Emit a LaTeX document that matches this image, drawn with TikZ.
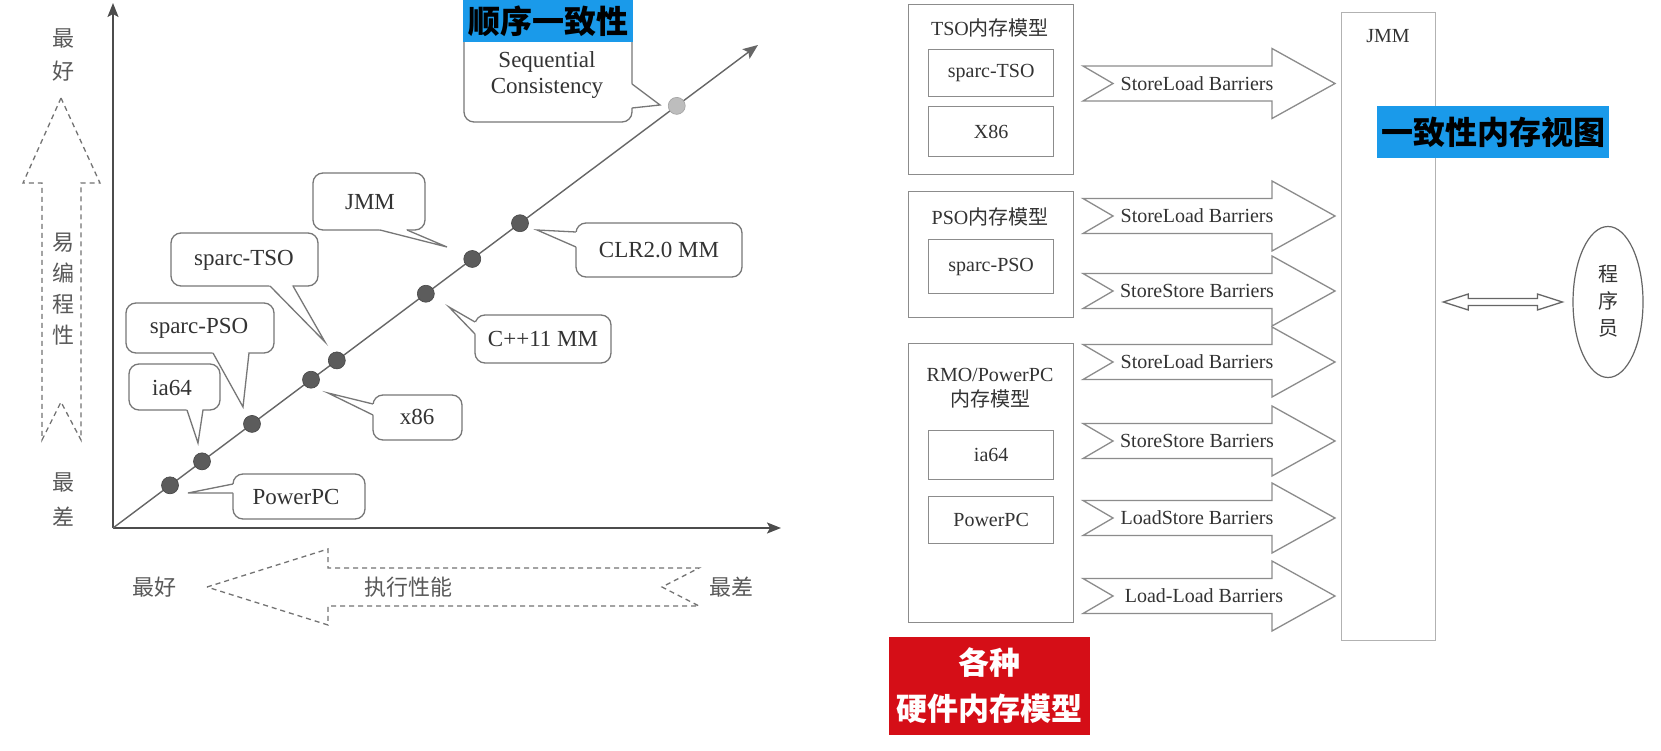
\documentclass[tikz,border=0pt]{standalone}
\usepackage{fontspec}
\setmainfont{Liberation Serif}
\newfontfamily\cjk{Noto Sans CJK SC}
\usetikzlibrary{arrows.meta,calc,shapes.geometric}
\definecolor{lc}{HTML}{777777}
\definecolor{bc}{HTML}{8C8C8C}
\definecolor{tx}{HTML}{333333}
\definecolor{dotc}{HTML}{5C5C5C}
\definecolor{scdot}{HTML}{BDBDBD}
\definecolor{blueL}{HTML}{1A9AEA}
\definecolor{redL}{HTML}{D50E17}
% rounded callout: corner1, corner2, base1, tip, base2
\newcommand\mycallout[5]{%
  \draw[co] #1 rectangle #2;
  \coordinate (cc) at ($#1!0.5!#2$);
  \fill[white] ($#3!2.5pt!(cc)$) -- #3 -- #4 -- #5 -- ($#5!2.5pt!(cc)$) -- cycle;
  \draw[coline] #3 -- #4 -- #5;
}
% barrier arrow: mid y, name, text
\newcommand\barrier[3]{%
  \draw[fat] (1083,#1-17.5) -- (1272,#1-17.5) -- (1272,#1-35) -- (1335,#1)
    -- (1272,#1+35) -- (1272,#1+17.5) -- (1083,#1+17.5) -- (1113,#1) -- cycle;
  \node[bt] (#2) at (1197,#1) {#3};
}
\begin{document}
\begin{tikzpicture}[x=1pt,y=-1pt,
  co/.style={draw=lc, line width=1.3, fill=white, rounded corners=10},
  coline/.style={draw=lc, line width=1.3, line join=miter},
  cotext/.style={font=\fontsize{23}{26}\selectfont, text=tx, align=center, inner sep=0},
  dot/.style={circle, fill=dotc, draw=dotc!75!black, line width=0.6, minimum size=17, inner sep=0},
  axis/.style={draw=black!70, line width=1.8, -{Stealth[length=14pt,width=11pt,inset=3pt]}},
  diag/.style={draw=black!60, line width=1.4, -{Stealth[length=15pt,width=12pt,inset=3pt]}},
  dsh/.style={draw=black!55, line width=1.3, dash pattern=on 5pt off 4pt},
  vlab/.style={font=\cjk\fontsize{22}{33}\selectfont, text=black!65, align=center, inner sep=0},
  bx/.style={draw=bc, line width=1.3, inner sep=0, anchor=north west},
  rt/.style={font=\fontsize{20}{24}\selectfont, text=tx, align=center, inner sep=0},
  bt/.style={font=\fontsize{20}{24}\selectfont, text=tx, inner sep=0},
  fat/.style={draw=bc, line width=1.3, fill=white, line join=miter},
  lab/.style={inner sep=0, font=\cjk\bfseries\fontsize{32}{46}\selectfont, align=center}
]
\fill[white] (0,0) rectangle (1661,751);
\useasboundingbox (0,0) rectangle (1661,751);

% ---------- left chart ----------
\coordinate (O) at (113,528);
\coordinate (Ytop) at (113,3);
\coordinate (Xend) at (781,528);
\coordinate (Dend) at (758,45);
\draw[axis] (O) -- (Ytop);
\draw[axis] (O) -- (Xend);
\draw[diag] (O) -- (Dend);

% vertical dashed arrow
\draw[dsh] (61,98) -- (100,183) -- (81,183) -- (81,440) -- (61,402) -- (42,440) -- (42,183) -- (23,183) -- cycle;
\node[vlab] (vbest) at (63,55) {最\\好};
\node[vlab, font=\cjk\fontsize{22}{31}\selectfont] (vease) at (63,289) {易\\编\\程\\性};
\node[vlab, font=\cjk\fontsize{22}{35}\selectfont] (vworst) at (63,500) {最\\差};

% horizontal dashed arrow
\draw[dsh] (207,587) -- (328,549) -- (328,568) -- (699,568) -- (662,587) -- (699,606) -- (328,606) -- (328,625) -- cycle;
\node[vlab] (hbest) at (154,587) {最好};
\node[vlab] (hperf) at (408,587) {执行性能};
\node[vlab] (hworst) at (731,587) {最差};

% callouts
\mycallout{(464,30)}{(632,122)}{(632,84)}{(660,105)}{(632,108)}
\node[cotext] (tSC) at (547,75) {Sequential\\Consistency};
\mycallout{(313,173)}{(425,230)}{(380,230)}{(447,247)}{(407,230)}
\node[cotext] (tJMM) at (370,202) {JMM};
\mycallout{(171,233)}{(318,286)}{(270,286)}{(325,342)}{(293,286)}
\node[cotext] (tTSO) at (244,260) {sparc-TSO};
\mycallout{(126,303)}{(274,353)}{(213,353)}{(243,407)}{(249,353)}
\node[cotext] (tPSO) at (199,328) {sparc-PSO};
\mycallout{(129,364)}{(220,410)}{(187,410)}{(198,443)}{(203,410)}
\node[cotext] (tia) at (172,388) {ia64};
\mycallout{(233,474)}{(365,519)}{(233,484)}{(188,493)}{(233,493)}
\node[cotext] (tPPC) at (296,497) {PowerPC};
\mycallout{(373,395)}{(462,440)}{(373,404)}{(328,393)}{(373,415)}
\node[cotext] (tx86) at (417,417) {x86};
\mycallout{(475,315)}{(611,363)}{(475,322)}{(449,307)}{(475,334)}
\node[cotext] (tCPP) at (543,339) {C++11 MM};
\mycallout{(576,223)}{(742,277)}{(576,232)}{(537,230)}{(576,247)}
\node[cotext] (tCLR) at (659,250) {CLR2.0 MM};

% dots on the diagonal
\node[dot] (dPPC) at ($(O)!0.0884!(Dend)$) {};
\node[dot] (dia) at ($(O)!0.138!(Dend)$) {};
\node[dot] (dPSO) at ($(O)!0.2155!(Dend)$) {};
\node[dot] (dx86) at ($(O)!0.307!(Dend)$) {};
\node[dot] (dTSO) at ($(O)!0.347!(Dend)$) {};
\node[dot] (dCPP) at ($(O)!0.485!(Dend)$) {};
\node[dot] (dJMM) at ($(O)!0.557!(Dend)$) {};
\node[dot] (dCLR) at ($(O)!0.631!(Dend)$) {};
\node[dot, fill=scdot, draw=scdot!85!black] (dSC) at ($(O)!0.874!(Dend)$) {};

\node[lab, fill=blueL, text=black, minimum width=170, minimum height=42] (lblSC) at (548,21) {顺序一致性};

% ---------- right diagram ----------
\node[bx, minimum width=165, minimum height=170] (tso) at (908,4) {};
\node[rt] (tsoT) at (990,28) {TSO{\cjk 内存模型}};
\node[bx, minimum width=125, minimum height=47] (sTSO) at (928,49) {};
\node[rt] at (sTSO.center) (sTSOt) {sparc-TSO};
\node[bx, minimum width=125, minimum height=50] (x86b) at (928,106) {};
\node[rt] at (x86b.center) (x86t) {X86};

\node[bx, minimum width=165, minimum height=126] (pso) at (908,191) {};
\node[rt] (psoT) at (990,217) {PSO{\cjk 内存模型}};
\node[bx, minimum width=125, minimum height=54] (sPSO) at (928,239) {};
\node[rt] at (sPSO.center) (sPSOt) {sparc-PSO};

\node[bx, minimum width=165, minimum height=279] (rmo) at (908,343) {};
\node[rt, font=\fontsize{20}{25}\selectfont] (rmoT) at (990,388) {RMO/PowerPC\\{\cjk 内存模型}};
\node[bx, minimum width=125, minimum height=49] (ia64b) at (928,430) {};
\node[rt] at (ia64b.center) (ia64t) {ia64};
\node[bx, minimum width=125, minimum height=47] (ppcb) at (928,496) {};
\node[rt] at (ppcb.center) (ppct) {PowerPC};

\barrier{83.5}{b1}{StoreLoad Barriers}
\barrier{216}{b2}{StoreLoad Barriers}
\barrier{291}{b3}{StoreStore Barriers}
\barrier{362}{b4}{StoreLoad Barriers}
\barrier{441}{b5}{StoreStore Barriers}
\barrier{518}{b6}{LoadStore Barriers}
\barrier{596}{b7}{\hspace{14pt}Load-Load Barriers}

\node[bx, draw=black!30, minimum width=94, minimum height=628] (jmm) at (1341,12) {};
\node[rt] (jmmT) at (1388,36) {JMM};

\node[ellipse, draw=black!60, line width=1.2, minimum width=70, minimum height=151, inner sep=0] (prog) at (1608,302) {};
\node[vlab, font=\cjk\fontsize{20}{27}\selectfont, text=tx] (progT) at (1608,301) {程\\序\\员};

\coordinate (da) at ($(jmm.east |- prog.center)+(7,0)$);
\coordinate (db) at ($(prog.west)+(-10,0)$);
\draw[fat, draw=black!60] let \p1=(da), \p2=(db) in
  (\x1,\y1) -- (\x1+25pt,\y1+8pt) -- (\x1+25pt,\y1+3.5pt) -- (\x2-25pt,\y1+3.5pt) -- (\x2-25pt,\y1+8pt)
  -- (\x2,\y1) -- (\x2-25pt,\y1-8pt) -- (\x2-25pt,\y1-3.5pt) -- (\x1+25pt,\y1-3.5pt) -- (\x1+25pt,\y1-8pt) -- cycle;

\node[lab, fill=blueL, text=black, minimum width=232, minimum height=52] (lblView) at (1493,132) {一致性内存视图};
\node[lab, fill=redL, text=white, minimum width=201, minimum height=98, font=\cjk\bfseries\fontsize{31}{46}\selectfont] (lblHW) at (989.5,686) {各种\\硬件内存模型};
\end{tikzpicture}
\end{document}
